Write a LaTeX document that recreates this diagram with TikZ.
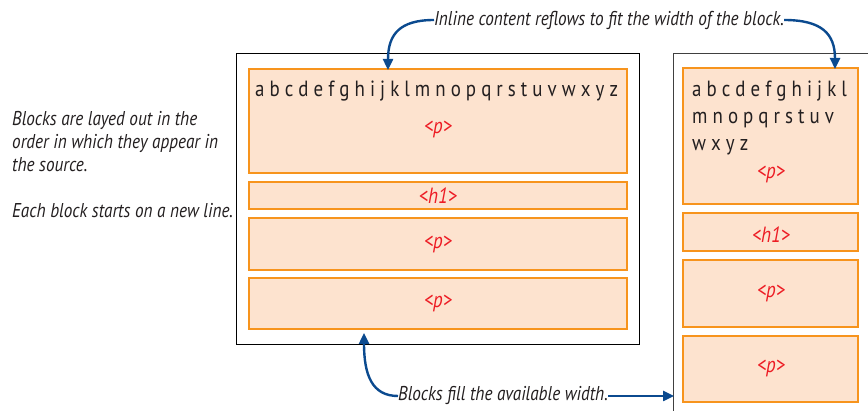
\documentclass[tikz,border=0pt]{standalone}
\usepackage{fontspec}
\setmainfont[FakeStretch=0.86]{PT Sans}
\usetikzlibrary{arrows.meta}
\definecolor{boxfill}{HTML}{FDE3CF}
\definecolor{boxline}{HTML}{F7941D}
\definecolor{tagred}{HTML}{ED1C24}
\definecolor{arrowblue}{HTML}{0B4A8F}
\definecolor{txt}{HTML}{231F20}
\tikzset{
  blk/.style={draw=boxline, fill=boxfill, line width=1.2pt},
  cont/.style={draw=black, line width=1pt},
  tag/.style={text=tagred, font=\fontsize{22}{24}\selectfont\itshape, inner sep=0pt},
  letters/.style={text=txt, font=\fontsize{22}{26}\selectfont, inner sep=0pt, anchor=base west},
  note/.style={text=txt, font=\fontsize{20}{23}\selectfont\itshape, inner sep=0pt},
  blue/.style={draw=arrowblue, line width=2.4pt, -{Triangle[length=11pt,width=10pt]}}
}
\begin{document}
\begin{tikzpicture}[x=1pt,y=-1pt]
\useasboundingbox (0,0) rectangle (868,411);
% left container
\draw[cont] (236,54) rectangle (639,345);
\draw[blk] (249,69) rectangle (627,173);
\draw[blk] (249,182) rectangle (627,209);
\draw[blk] (249,218) rectangle (627,270);
\draw[blk] (249,278) rectangle (627,329);
\node[letters] (la) at (255,97) {a b c d e f g h i j k l m n o p q r s t u v w x y z};
\node[tag] (lp1) at (438,129) {<p>};
\node[tag] (lh1) at (438,196) {<h1>};
\node[tag] (lp2) at (438,244) {<p>};
\node[tag] (lp3) at (438,303) {<p>};
% right container
\draw[line width=1pt, draw=black!75] (868,54) -- (673,54) -- (673,411);
\draw[blk] (683,68) rectangle (858,204);
\draw[blk] (683,213) rectangle (858,251);
\draw[blk] (683,260) rectangle (858,327);
\draw[blk] (683,336) rectangle (858,402);
\node[letters] (ra1) at (692,97) {a b c d e f g h i j k l};
\node[letters] (ra2) at (692,124) {m n o p q r s t u v};
\node[letters] (ra3) at (692,151) {w x y z};
\node[tag] (rp1) at (771,174) {<p>};
\node[tag] (rh1) at (771,235) {<h1>};
\node[tag] (rp2) at (771,293) {<p>};
\node[tag] (rp3) at (771,368) {<p>};
% notes
\node[note, anchor=north west, align=left] (side) at (12,111) {Blocks are layed out in the\\order in which they appear in\\the source.\\[23pt]Each block starts on a new line.};
\node[note, anchor=west] (top) at (434,20) {Inline content reflows to fit the width of the block.};
\node[note, anchor=west] (bot) at (398,396) {Blocks fill the available width.};
\coordinate (t1) at (388,70);
\coordinate (t2) at (835,69);
\coordinate (b1) at (364,333);
\coordinate (b2) at (674,396);
\draw[blue] (top.west) .. controls (400,20) and (388,34) .. (t1);
\draw[blue] (top.east) .. controls (822,20) and (835,34) .. (t2);
\draw[blue] (bot.west) .. controls (372,396) and (364,375) .. (b1);
\draw[blue] (bot.east) -- (b2);
\end{tikzpicture}
\end{document}
